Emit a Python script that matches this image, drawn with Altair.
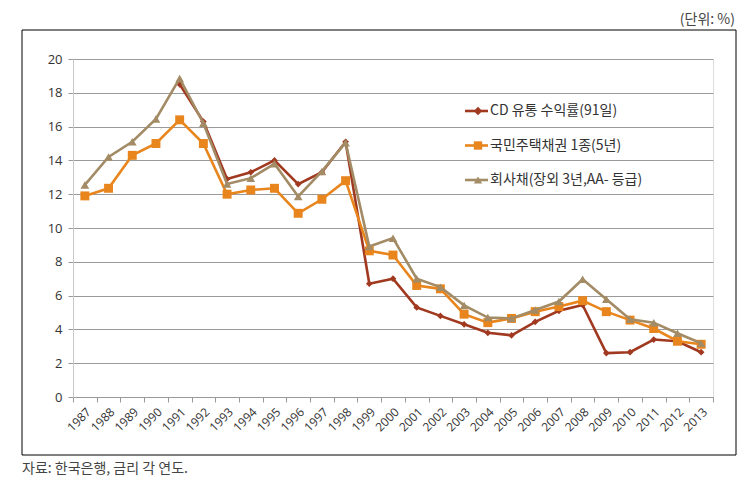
import altair as alt
import pandas as pd

years = [str(y) for y in range(1987, 2014)]
series_names = ["CD 유통 수익률(91일)", "국민주택채권 1종(5년)", "회사채(장외 3년,AA- 등급)"]
cd = [None, None, None, None, 18.5, 16.3, 12.9, 13.3, 14.0, 12.6, 13.3, 15.1, 6.7, 7.0,
      5.3, 4.8, 4.3, 3.8, 3.65, 4.45, 5.1, 5.45, 2.6, 2.65, 3.4, 3.3, 2.65]
kookmin = [11.9, 12.35, 14.3, 15.0, 16.4, 15.0, 12.0, 12.25, 12.35, 10.87, 11.7, 12.8, 8.65, 8.4,
           6.6, 6.4, 4.9, 4.4, 4.65, 5.05, 5.35, 5.7, 5.05, 4.55, 4.05, 3.3, 3.12]
corp = [12.55, 14.2, 15.1, 16.45, 18.85, 16.2, 12.6, 12.95, 13.8, 11.87, 13.35, 15.05, 8.9, 9.4,
        7.0, 6.5, 5.42, 4.7, 4.65, 5.15, 5.65, 6.97, 5.78, 4.6, 4.4, 3.77, 3.18]
colors = ["#A0391F", "#E8851C", "#A28B65"]
shapes = ["diamond", "square", "triangle-up"]
sizes = [45, 80, 75]
unit_text = ["(단위:  %)"]
source_text = ["자료: 한국은행, 금리 각 연도."]

rows = []
for name, vals in zip(series_names, [cd, kookmin, corp]):
    for y, v in zip(years, vals):
        if v is not None:
            rows.append({"year": y, "value": v, "series": name})
df = pd.DataFrame(rows)

FONT = "Noto Sans CJK KR"
color_scale = alt.Scale(domain=series_names, range=colors)
shape_scale = alt.Scale(domain=series_names, range=shapes)

x_enc = alt.X("year:N", sort=years, scale=alt.Scale(domain=years, paddingInner=0, paddingOuter=0),
              axis=alt.Axis(title=None, labelAngle=-45, labelFontSize=12, labelColor="#333",
                            labelFont="Open Sans", tickBand="extent", tickSize=5,
                            tickColor="#999", domainColor="#999", labelPadding=4))
y_enc = alt.Y("value:Q", scale=alt.Scale(domain=[0, 20]),
              axis=alt.Axis(title=None, values=list(range(0, 21, 2)), grid=True,
                            gridColor="#9a9a9a", tickColor="#9a9a9a", tickSize=5,
                            domainColor="#c8c8c8", labelFontSize=13, labelColor="#333",
                            labelFont="Open Sans", labelPadding=6))

data_layers = []
for i, name in enumerate(series_names):
    sub = df[df["series"] == name]
    base = alt.Chart(sub)
    line = base.mark_line(strokeWidth=2.6).encode(
        x=x_enc, y=y_enc,
        color=alt.Color("series:N", scale=color_scale, legend=None))
    pts = base.mark_point(filled=True, opacity=1, size=sizes[i]).encode(
        x=x_enc, y=y_enc,
        color=alt.Color("series:N", scale=color_scale, legend=None),
        shape=alt.Shape("series:N", scale=shape_scale, legend=None))
    data_layers += [line, pts]
data_layer = alt.layer(*data_layers)

leg_df = pd.DataFrame({"series": series_names, "idx": list(range(len(series_names)))})
leg_y = alt.Y("idx:Q", scale=alt.Scale(domain=[0, 2], range=[52, 121]), axis=None)
leg_base = alt.Chart(leg_df)
leg_line = leg_base.mark_rule(strokeWidth=2.6).encode(
    x=alt.value(392), x2=alt.value(415), y=leg_y,
    color=alt.Color("series:N", scale=color_scale, legend=None))
leg_pt = leg_base.mark_point(filled=True, opacity=1, size=70).encode(
    x=alt.value(405), y=leg_y,
    color=alt.Color("series:N", scale=color_scale, legend=None),
    shape=alt.Shape("series:N", scale=shape_scale, legend=None))
leg_txt = leg_base.mark_text(align="left", baseline="middle", fontSize=14, font=FONT,
                             color="#333").encode(x=alt.value(417), y=leg_y, text="series:N")
legend_layer = alt.layer(leg_line, leg_pt, leg_txt)

frame = alt.Chart(pd.DataFrame({"a": [0]})).mark_rect(
    filled=False, stroke="black", strokeWidth=1).encode(
    x=alt.value(-51), x2=alt.value(663), y=alt.value(-29), y2=alt.value(396))
unit = alt.Chart(pd.DataFrame({"t": unit_text})).mark_text(
    align="right", baseline="middle", fontSize=14, font=FONT, color="#444").encode(
    x=alt.value(662), y=alt.value(-39), text="t:N")
source = alt.Chart(pd.DataFrame({"t": source_text})).mark_text(
    align="left", baseline="middle", fontSize=14, font=FONT, color="#444").encode(
    x=alt.value(-51), y=alt.value(410), text="t:N")

chart = alt.layer(frame, unit, source, data_layer, legend_layer).resolve_scale(
    y="independent").properties(
    width=640, height=338,
    padding={"left": 65, "top": 51, "right": 24, "bottom": 82},
    autosize=alt.AutoSizeParams(type="none"),
).configure_view(stroke=None).configure(background="white")

chart.save("out.html", embed_options={"renderer": "svg", "actions": False})
